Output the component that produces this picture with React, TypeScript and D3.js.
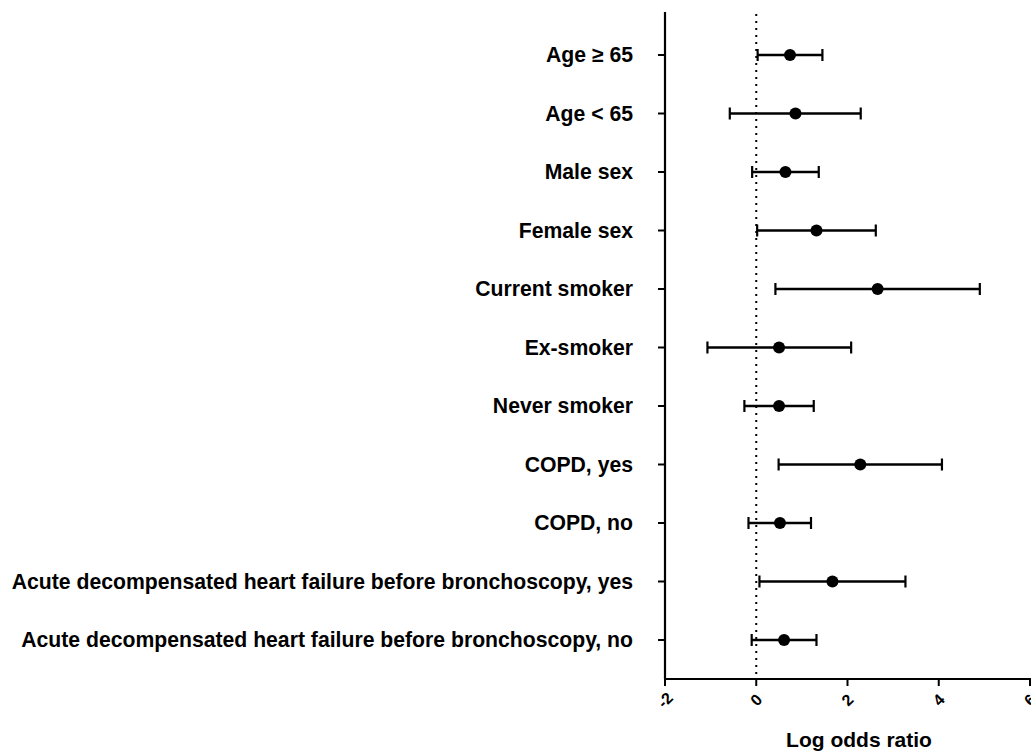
import React from "react";
import * as d3 from "d3";

const categories = [
  "Age \u2265 65",
  "Age < 65",
  "Male sex",
  "Female sex",
  "Current smoker",
  "Ex-smoker",
  "Never smoker",
  "COPD, yes",
  "COPD, no",
  "Acute decompensated heart failure before bronchoscopy, yes",
  "Acute decompensated heart failure before bronchoscopy, no",
];
const estimates = [0.74, 0.86, 0.64, 1.32, 2.66, 0.5, 0.5, 2.28, 0.52, 1.67, 0.61];
const lower = [0.03, -0.58, -0.09, 0.02, 0.42, -1.07, -0.26, 0.49, -0.17, 0.07, -0.1];
const upper = [1.45, 2.29, 1.37, 2.62, 4.9, 2.08, 1.26, 4.07, 1.2, 3.27, 1.32];
const xTicks = [-2, 0, 2, 4, 6];
const xTitle = "Log odds ratio";

export default function App() {
  const W = 1031, H = 754;
  const x = d3.scaleLinear().domain([-2, 6]).range([665, 1030]);
  const y = d3.scalePoint<string>().domain(categories).range([55, 640]);
  const axisY = 679;
  const font = "'Liberation Sans', Arial, sans-serif";
  return (
    <svg width={W} height={H} style={{ position: "absolute", left: 0, top: 0, background: "#fff" }}>
      {/* y axis */}
      <line x1={x(-2)} x2={x(-2)} y1={12} y2={axisY} stroke="#000" strokeWidth={2.2} />
      {categories.map((c, i) => (
        <g key={c}>
          <line x1={x(-2) - 7} x2={x(-2)} y1={y(c)} y2={y(c)} stroke="#000" strokeWidth={2} />
          <text x={633} y={y(c)!} dy="0.35em" textAnchor="end" fontFamily={font} fontWeight="bold" fontSize={21.2} fill="#000">{c}</text>
        </g>
      ))}
      {/* x axis */}
      <line x1={x(-2) - 1} x2={W} y1={axisY} y2={axisY} stroke="#000" strokeWidth={2.2} />
      {xTicks.map((t) => (
        <g key={t}>
          <line x1={x(t)} x2={x(t)} y1={axisY} y2={axisY + 7} stroke="#000" strokeWidth={2} />
          <text transform={`translate(${x(t)},${axisY + 21}) rotate(-45)`} textAnchor="middle" dy="0.35em" fontFamily={font} fontWeight="bold" fontSize={16} fill="#000">{t < 0 ? "-" + Math.abs(t) : String(t)}</text>
        </g>
      ))}
      <text x={859} y={747} textAnchor="middle" fontFamily={font} fontWeight="bold" fontSize={21} fill="#000">{xTitle}</text>
      {/* reference line */}
      <line x1={x(0)} x2={x(0)} y1={14} y2={axisY} stroke="#000" strokeWidth={2} strokeDasharray="2,5" />
      {/* error bars */}
      {categories.map((c, i) => {
        const yy = y(c)!;
        return (
          <g key={"e" + i}>
            <line x1={x(lower[i])} x2={x(upper[i])} y1={yy} y2={yy} stroke="#000" strokeWidth={2.4} />
            <line x1={x(lower[i])} x2={x(lower[i])} y1={yy - 6} y2={yy + 6} stroke="#000" strokeWidth={2.2} />
            <line x1={x(upper[i])} x2={x(upper[i])} y1={yy - 6} y2={yy + 6} stroke="#000" strokeWidth={2.2} />
            <circle cx={x(estimates[i])} cy={yy} r={6} fill="#000" />
          </g>
        );
      })}
    </svg>
  );
}
